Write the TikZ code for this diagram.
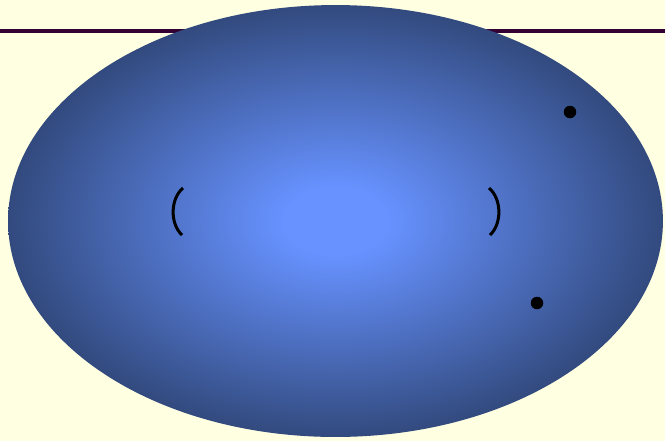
\documentclass[tikz,border=0pt]{standalone}
\definecolor{bgyellow}{RGB}{255,255,226}
\definecolor{linepurple}{RGB}{51,0,51}
\definecolor{innerblue}{RGB}{103,146,255}
\definecolor{outerblue}{RGB}{50,74,126}
\usetikzlibrary{shapes.geometric}
\pgfdeclareradialshading{blobshade}{\pgfpoint{0bp}{0bp}}{%
  color(0bp)=(innerblue); color(4bp)=(innerblue); color(25bp)=(outerblue); color(50bp)=(outerblue)}
\tikzset{
  hline/.style={draw=linepurple, line width=0.08cm},
  blob/.style={ellipse, minimum width=13.1cm, minimum height=8.64cm, shading=blobshade},
  paren/.style={draw=black, line width=0.06cm},
  dotnode/.style={circle, fill=black, inner sep=0pt, minimum size=0.25cm}
}
\begin{document}
\begin{tikzpicture}[x=0.02cm, y=-0.02cm]
\fill[bgyellow] (0,0) rectangle (665,441);
\useasboundingbox (0,0) rectangle (665,441);
\coordinate (L0) at (0,31);
\coordinate (L1) at (665,31);
\draw[hline] (L0) -- (L1);
\node[blob] (E) at (335.5,221) {};
\coordinate (a1) at (183,188);
\coordinate (a2) at (182,235);
\draw[paren] (a1) .. controls (170,199) and (170,224) .. (a2);
\coordinate (b1) at (489,188);
\coordinate (b2) at (490,235);
\draw[paren] (b1) .. controls (502,199) and (502,224) .. (b2);
\node[dotnode] (d1) at (570,112) {};
\node[dotnode] (d2) at (537,303) {};
\end{tikzpicture}
\end{document}
